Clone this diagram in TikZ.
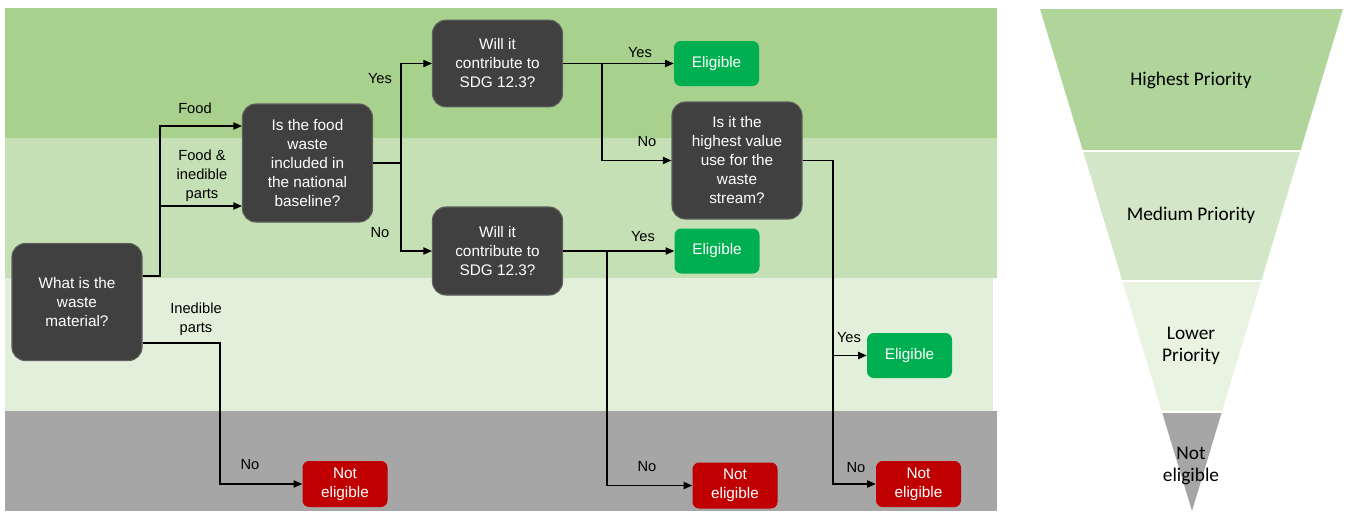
\documentclass[tikz,border=0pt]{standalone}
\usepackage{fontspec}
\setmainfont{Liberation Sans}
\newfontfamily\calibri{Carlito}
\usetikzlibrary{arrows.meta,positioning,calc}

\definecolor{bandhigh}{HTML}{A9D18E}
\definecolor{bandmed}{HTML}{C5E0B4}
\definecolor{bandlow}{HTML}{E2EFDA}
\definecolor{bandnot}{HTML}{A6A6A6}
\definecolor{pyrhigh}{HTML}{AFD59A}
\definecolor{pyrmed}{HTML}{D3E6C7}
\definecolor{pyrlow}{HTML}{E9F3E2}
\definecolor{qfill}{HTML}{404040}
\definecolor{qedge}{HTML}{5E5E5E}
\definecolor{yesgreen}{HTML}{00B050}
\definecolor{nored}{HTML}{C00000}

\begin{document}
\begin{tikzpicture}[x=0.75pt,y=-0.75pt,
  question/.style={draw=qedge,line width=0.8pt,fill=qfill,rounded corners=10pt,
    text=white,align=center,minimum width=97.5pt,inner sep=0pt,
    font=\fontsize{11.5}{14.25}\selectfont},
  yesbox/.style={fill=yesgreen,rounded corners=5pt,text=white,align=center,
    minimum width=63.75pt,minimum height=33.75pt,inner sep=0pt,
    font=\fontsize{11.5}{14.25}\selectfont},
  nobox/.style={yesbox,fill=nored,minimum height=34.5pt},
  lbl/.style={align=center,inner sep=0pt,font=\fontsize{11}{14.25}\selectfont},
  tier/.style={align=center,inner sep=0pt,font=\calibri\fontsize{14.5}{16.5}\selectfont},
  arr/.style={line width=0.8pt,-{Triangle[length=6.5pt,width=5.5pt]}}
]
\useasboundingbox (0,0) rectangle (1349,511);

% priority bands behind the flow chart
\fill[bandhigh] (5,8) rectangle (997,138);
\fill[bandmed] (5,138) rectangle (997,278);
\fill[bandlow] (5,278) rectangle (993,411);
\fill[bandnot] (5,411) rectangle (997,511);

% priority funnel
\fill[pyrhigh] (1040,9) -- (1343,9) -- (1300.3,151) -- (1083.0,151) -- cycle;
\fill[pyrmed] (1083.0,151) -- (1300.3,151) -- (1261.2,281) -- (1122.4,281) -- cycle;
\fill[pyrlow] (1122.4,281) -- (1261.2,281) -- (1221.8,412) -- (1162.0,412) -- cycle;
\fill[bandnot] (1162.0,412) -- (1221.8,412) -- (1192,511) -- cycle;
\draw[white,line width=1pt] (1083.0,151) -- (1300.3,151);
\draw[white,line width=1pt] (1122.4,281) -- (1261.2,281);
\draw[white,line width=1pt] (1162.0,412) -- (1221.8,412);

\node[tier] (highprio) at (1191,80) {Highest Priority};
\node[tier] (medprio) at (1191,215) {Medium Priority};
\node[tier] (lowprio) at (1191,346) {Lower\\Priority};
\node[tier] (notprio) at (1191,466) {Not\\eligible};

% questions
\node[question,minimum height=87.75pt] (what) at (77,302) {What is the\\waste\\material?};
\node[question,minimum height=88.5pt] (isfood) at (307.5,163) {Is the food\\waste\\included in\\the national\\baseline?};
\node[question,minimum height=65pt] (willtop) at (497.5,63.5) {Will it\\contribute to\\SDG 12.3?};
\node[question,minimum height=66pt] (willbot) at (497.5,251) {Will it\\contribute to\\SDG 12.3?};
\node[question,minimum height=87.75pt] (highest) at (737,160.5) {Is it the\\highest value\\use for the\\waste\\stream?};

% outcomes
\node[yesbox] (eligtop) at (716.5,63.5) {Eligible};
\node[yesbox] (eligmid) at (717,251) {Eligible};
\node[yesbox] (eligright) at (909.5,355.5) {Eligible};
\node[nobox] (notleft) at (345,484) {Not\\eligible};
\node[nobox] (notmid) at (735,485.5) {Not\\eligible};
\node[nobox] (notright) at (918.5,484) {Not\\eligible};

% branch points
\coordinate (split) at (160,276);
\coordinate (food) at (160,126);
\coordinate (foodinedible) at (160,206);
\coordinate (inedible) at (220,343);
\coordinate (basesplit) at (401,163);
\coordinate (topsplit) at (602,63.5);
\coordinate (botsplit) at (607,251);
\coordinate (valuesplit) at (833,160.5);

% connectors
\draw[arr] (what.east |- split) -- (split) -- (food) -- (isfood.west |- food);
\draw[arr] (foodinedible) -- (isfood.west |- foodinedible);
\draw[arr] (what.east |- inedible) -- (inedible) |- (notleft.west);
\draw[arr] (isfood.east) -- (basesplit) |- (willtop.west);
\draw[arr] (basesplit) |- (willbot.west);
\draw[arr] (willtop.east) -- (eligtop.west);
\draw[arr] (topsplit) |- (highest.west);
\draw[arr] (willbot.east) -- (eligmid.west);
\draw[arr] (botsplit) |- (notmid.west);
\draw[arr] (highest.east) -- (valuesplit) |- (notright.west);
\draw[arr] (valuesplit |- eligright.west) -- (eligright.west);

% branch labels
\node[lbl] (lfood) at (195,108) {Food};
\node[lbl] (lfoodinedible) at (202,176) {Food \&\\inedible\\parts};
\node[lbl] (linedible) at (196,319) {Inedible\\parts};
\node[lbl] (lno1) at (250,465) {No};
\node[lbl] (lyes1) at (380,79) {Yes};
\node[lbl] (lno2) at (380,233) {No};
\node[lbl] (lyes2) at (640,53) {Yes};
\node[lbl] (lno3) at (647,142) {No};
\node[lbl] (lyes3) at (643,237) {Yes};
\node[lbl] (lno4) at (647,467) {No};
\node[lbl] (lyes4) at (849,338) {Yes};
\node[lbl] (lno5) at (856,468) {No};
\end{tikzpicture}
\end{document}
